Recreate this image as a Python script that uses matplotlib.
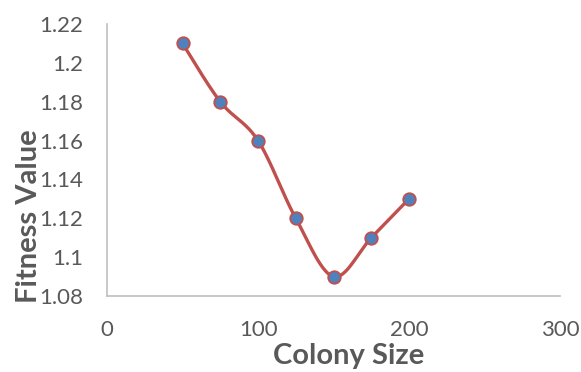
import matplotlib
matplotlib.use("Agg")
import matplotlib.pyplot as plt
import numpy as np

colony_size = [50, 75, 100, 125, 150, 175, 200]
fitness_value = [1.21, 1.18, 1.16, 1.12, 1.09, 1.11, 1.13]
x_ticks = [0, 100, 200, 300]
y_ticks = [1.08, 1.10, 1.12, 1.14, 1.16, 1.18, 1.20, 1.22]
y_tick_labels = ["1.08", "1.1", "1.12", "1.14", "1.16", "1.18", "1.2", "1.22"]


def smooth_curve(xs, ys, steps=30):
    # Excel-like smoothing: Catmull-Rom bezier segments
    xs = np.asarray(xs, float)
    ys = np.asarray(ys, float)
    px = np.concatenate([[xs[0]], xs, [xs[-1]]])
    py = np.concatenate([[ys[0]], ys, [ys[-1]]])
    out_x, out_y = [], []
    t = np.linspace(0, 1, steps)
    for i in range(1, len(px) - 2):
        p0, p1, p2, p3 = (np.array([px[j], py[j]]) for j in (i - 1, i, i + 1, i + 2))
        c1 = p1 + (p2 - p0) / 6.0
        c2 = p2 - (p3 - p1) / 6.0
        b = ((1 - t) ** 3)[:, None] * p1 + (3 * (1 - t) ** 2 * t)[:, None] * c1 \
            + (3 * (1 - t) * t ** 2)[:, None] * c2 + (t ** 3)[:, None] * p2
        out_x.extend(b[:, 0])
        out_y.extend(b[:, 1])
    return out_x, out_y


plt.rcParams['font.family'] = ['Lato', 'DejaVu Sans']

fig = plt.figure(figsize=(5.81, 3.72), dpi=100)
ax = fig.add_axes([0.1842, 0.2043, 0.7797, 0.7312])

sx, sy = smooth_curve(colony_size, fitness_value)
ax.plot(sx, sy, color="#C0504D", linewidth=2.4, zorder=2)
ax.plot(colony_size, fitness_value, linestyle="none", marker="o", markersize=9,
        markerfacecolor="#4F81BD", markeredgecolor="#C0504D", markeredgewidth=1.3, zorder=3)

ax.set_xlim(0, 300)
ax.set_ylim(1.08, 1.22)
ax.set_xticks(x_ticks)
ax.set_yticks(y_ticks)
ax.set_yticklabels(y_tick_labels)
ax.tick_params(length=0, labelsize=16, colors="#595959")
ax.tick_params(axis="y", pad=17)
ax.tick_params(axis="x", pad=17)

for side in ("top", "right"):
    ax.spines[side].set_visible(False)
for side in ("left", "bottom"):
    ax.spines[side].set_color("#BFBFBF")
    ax.spines[side].set_linewidth(1.2)

ax.set_xlabel("Colony Size", fontsize=21, fontweight="bold", color="#595959")
ax.set_ylabel("Fitness Value", fontsize=21, fontweight="bold", color="#595959")
ax.xaxis.set_label_coords(0.534, -0.172)
ax.yaxis.set_label_coords(-0.143, 0.294)

fig.savefig("out.png", dpi=100)
